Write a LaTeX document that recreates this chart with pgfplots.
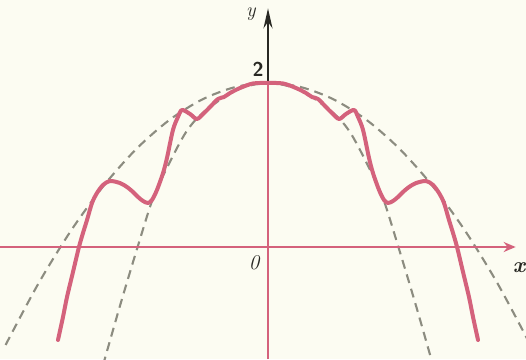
\documentclass[border=0pt]{standalone}
\usepackage{pgfplots}
\pgfplotsset{compat=1.18}
\usetikzlibrary{arrows.meta}

\definecolor{paper}{RGB}{252,252,242}
\definecolor{curve}{RGB}{212,98,124}
\definecolor{guide}{RGB}{140,140,128}
\definecolor{ink}{RGB}{40,40,35}

\begin{document}
\begin{tikzpicture}
\begin{axis}[
  x=82pt, y=82pt,
  xmin=-3.268, xmax=3.146,
  ymin=-1.366, ymax=3.012,
  hide axis,
  clip=true,
]
% paper
\fill[paper] (rel axis cs:0,0) rectangle (rel axis cs:1,1);

% outer bounding parabola
\addplot[guide, line width=2.1pt, dash pattern=on 9pt off 6pt, smooth] coordinates {
  (-3.2,-1.195) (-2.8,-0.446) (-2.4,0.203) (-2.0,0.752) (-1.6,1.201)
  (-1.2,1.551) (-0.8,1.800) (-0.4,1.950) (0,2)
  (0.4,1.950) (0.8,1.800) (1.2,1.551) (1.6,1.201) (2.0,0.752)
  (2.4,0.203) (2.8,-0.446) (3.2,-1.195)
};
% inner bounding parabola
\addplot[guide, line width=2.1pt, dash pattern=on 9pt off 6pt, smooth] coordinates {
  (-2.06,-1.62) (-2.0,-1.40) (-1.8,-0.70) (-1.59,0) (-1.4,0.60) (-1.2,1.03)
  (-1.0,1.40) (-0.8,1.63) (-0.4,1.91) (0,2)
  (0.4,1.91) (0.8,1.63) (1.0,1.40) (1.2,1.03) (1.4,0.60) (1.59,0)
  (1.8,-0.70) (2.0,-1.40) (2.06,-1.62)
};

% axes
\draw[curve, line width=2.4pt, -{Stealth[length=12pt,width=10pt]}]
  (axis cs:-3.268,0) -- (axis cs:3.02,0);
\draw[curve, line width=2pt] (axis cs:0,-1.366) -- (axis cs:0,2);
\draw[ink, line width=2.2pt, -{Stealth[length=20pt,width=9pt]}]
  (axis cs:0,2) -- (axis cs:0,2.91);

% the oscillating curve
\addplot[curve, line width=4pt, smooth, tension=0.5, line cap=round, line join=round] coordinates {
  (-2.561,-1.134) (-2.500,-0.854) (-2.451,-0.610) (-2.378,-0.305) (-2.305,0)
  (-2.256,0.171) (-2.207,0.329) (-2.146,0.537) (-2.085,0.659) (-2.012,0.756)
  (-1.927,0.805) (-1.805,0.780) (-1.720,0.732) (-1.646,0.671) (-1.585,0.610)
  (-1.524,0.561) (-1.463,0.537) (-1.415,0.573) (-1.354,0.695) (-1.280,0.902)
  (-1.232,1.085) (-1.159,1.427) (-1.098,1.585) (-1.049,1.671) (-0.951,1.622)
  (-0.866,1.561) (-0.780,1.634) (-0.707,1.707) (-0.610,1.805) (-0.537,1.829)
  (-0.463,1.878) (-0.341,1.939) (-0.183,1.994) (0,2)
  (0.183,1.994) (0.341,1.939) (0.463,1.878) (0.537,1.829) (0.610,1.805)
  (0.707,1.707) (0.780,1.634) (0.866,1.561) (0.951,1.622) (1.049,1.671)
  (1.098,1.585) (1.159,1.427) (1.232,1.085) (1.280,0.902) (1.354,0.695)
  (1.415,0.573) (1.463,0.537) (1.524,0.561) (1.585,0.610) (1.646,0.671)
  (1.720,0.732) (1.805,0.780) (1.927,0.805) (2.012,0.756) (2.085,0.659)
  (2.146,0.537) (2.207,0.329) (2.256,0.171) (2.305,0) (2.378,-0.305)
  (2.451,-0.610) (2.500,-0.854) (2.561,-1.134)
};

% labels
\node[ink, font=\fontsize{20}{24}\selectfont\bfseries\sffamily] at (axis cs:-0.12,2.17) {2};
\node[ink, font=\fontsize{21}{24}\selectfont\itshape] at (axis cs:-0.17,-0.19) {0};
\node[ink, font=\fontsize{22}{26}\selectfont\itshape\bfseries] at (axis cs:3.06,-0.25) {x};
\node[ink, font=\fontsize{20}{24}\selectfont\itshape] at (axis cs:-0.21,2.84) {y};
\end{axis}
\end{tikzpicture}
\end{document}
